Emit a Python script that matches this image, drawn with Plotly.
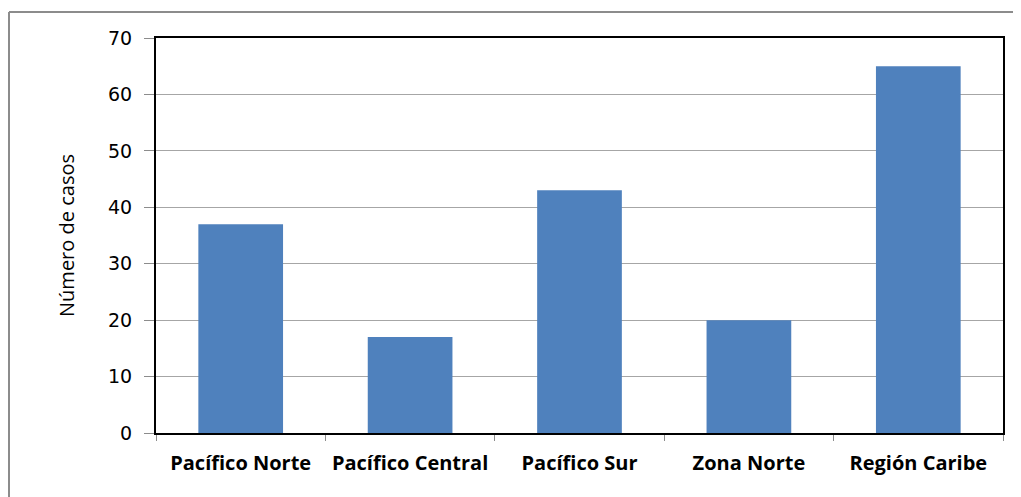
import plotly.graph_objects as go

regiones = ["Pacífico Norte", "Pacífico Central", "Pacífico Sur", "Zona Norte", "Región Caribe"]
casos = [37, 17, 43, 20, 65]
y_ticks = [0, 10, 20, 30, 40, 50, 60, 70]

# the page puts the figure at (8, 8)
OFF = 8
W, H = 1021 - OFF, 497 - OFF
L, R, T, B = 156 - OFF, 18, 38 - OFF, 64
pw, ph = W - L - R, H - T - B


def px_x(x):
    return (x - OFF - L) / pw


def px_y(y):
    return (H - B - (y - OFF)) / ph


fig = go.Figure(go.Bar(
    x=regiones,
    y=casos,
    marker=dict(color="#4F81BD", line=dict(width=0)),
))

# outer chart border (left and top visible)
fig.add_shape(type="line", xref="paper", yref="paper",
              x0=px_x(9), x1=px_x(9), y0=px_y(12), y1=px_y(505),
              line=dict(color="#8C8C8C", width=2))
fig.add_shape(type="line", xref="paper", yref="paper",
              x0=px_x(9), x1=px_x(1030), y0=px_y(12), y1=px_y(12),
              line=dict(color="#8C8C8C", width=2))

fig.update_layout(
    width=W, height=H,
    margin=dict(l=L, r=R, t=T, b=B),
    paper_bgcolor="white", plot_bgcolor="white",
    bargap=0.5,
    showlegend=False,
    font=dict(family="DejaVu Sans", color="black"),
)
fig.update_xaxes(
    showline=True, linecolor="black", linewidth=2, mirror=True,
    ticks="outside", tickson="boundaries", ticklen=6, tickcolor="#8C8C8C",
    tickfont=dict(family="Open Sans", size=20, weight="bold"),
    ticklabelstandoff=11,
    showgrid=False,
)
fig.update_yaxes(
    range=[0, 70], tickvals=y_ticks,
    showline=True, linecolor="black", linewidth=2, mirror=True,
    ticks="outside", ticklen=10, tickcolor="#8C8C8C",
    tickfont=dict(family="DejaVu Sans", size=19),
    ticklabelstandoff=8,
    showgrid=True, gridcolor="#A6A6A6", gridwidth=1,
    title=dict(text="Número de casos", standoff=28,
               font=dict(family="Open Sans", size=20, weight=500)),
)

fig.write_html("out.html")
